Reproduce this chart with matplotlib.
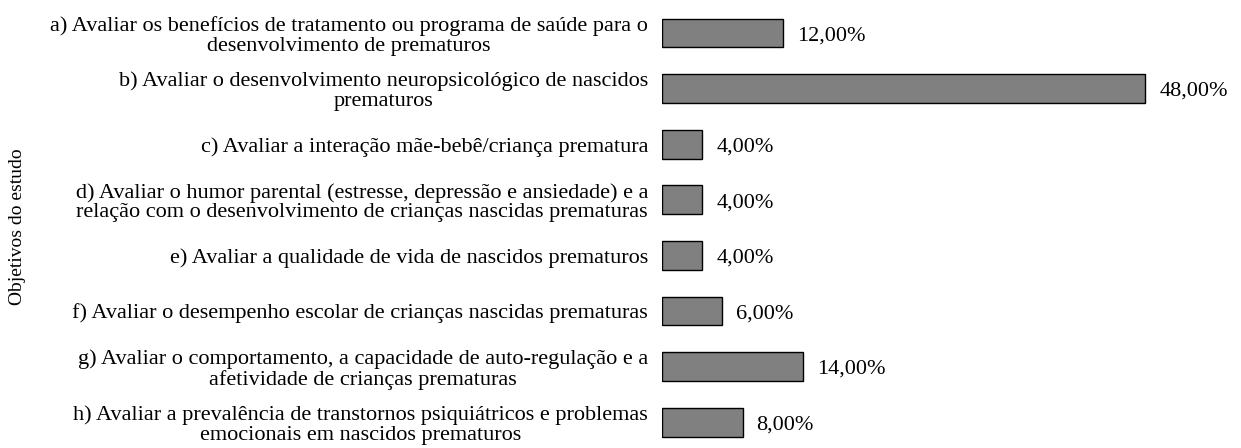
import matplotlib.pyplot as plt

plt.rcParams['font.family'] = ['Liberation Serif', 'DejaVu Serif']

# objectives of the study and their share of studies (%)
objetivos = [
    "a) Avaliar os benefícios de tratamento ou programa de saúde para o\ndesenvolvimento de prematuros",
    "b) Avaliar o desenvolvimento neuropsicológico de nascidos\nprematuros",
    "c) Avaliar a interação mãe-bebê/criança prematura",
    "d) Avaliar o humor parental (estresse, depressão e ansiedade) e a\nrelação com o desenvolvimento de crianças nascidas prematuras",
    "e) Avaliar a qualidade de vida de nascidos prematuros",
    "f) Avaliar o desempenho escolar de crianças nascidas prematuras",
    "g) Avaliar o comportamento, a capacidade de auto-regulação e a\nafetividade de crianças prematuras",
    "h) Avaliar a prevalência de transtornos psiquiátricos e problemas\nemocionais em nascidos prematuros",
]
percentuais = [12.0, 48.0, 4.0, 4.0, 4.0, 6.0, 14.0, 8.0]
rotulos = ["12,00%", "48,00%", "4,00%", "4,00%", "4,00%", "6,00%", "14,00%", "8,00%"]

FS = 16

fig = plt.figure(figsize=(12.41, 4.48), dpi=100)
ax = fig.add_axes([662 / 1241, 0.0, 1 - 662 / 1241 - 10 / 1241, 1.0])

pos = list(range(len(objetivos)))
ax.barh(pos, percentuais, height=0.52, color='#808080', edgecolor='black', linewidth=1)

for y, v, lab in zip(pos, percentuais, rotulos):
    ax.annotate(lab, (v, y), xytext=(10, -2), textcoords='offset points',
                va='center', ha='left', fontsize=FS)

ax.set_xlim(0, 56.5)
ax.set_ylim(7.464, -0.594)
ax.set_yticks(pos)
ax.set_yticklabels(objetivos, fontsize=FS)
for lbl in ax.get_yticklabels():
    lbl.set_multialignment('center')
    lbl.set_linespacing(1.05)
ax.tick_params(axis='y', length=0, pad=10)
ax.set_xticks([])
for s in ax.spines.values():
    s.set_visible(False)

fig.text(18 / 1241, 0.495, "Objetivos do estudo", rotation=90, ha='center', va='center',
         fontsize=14)

fig.savefig('out.png', dpi=100)
